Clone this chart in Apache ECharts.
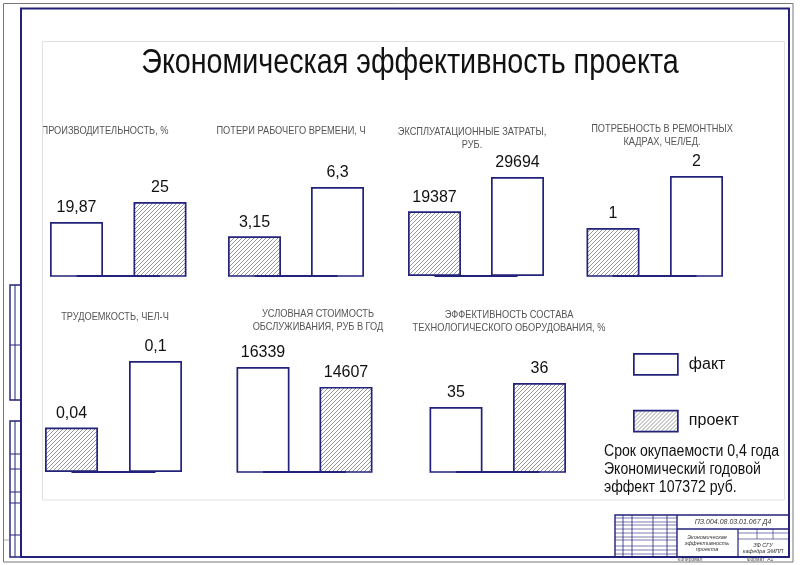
<!DOCTYPE html>
<html><head><meta charset="utf-8">
<script src="https://cdn.jsdelivr.net/npm/echarts@6/dist/echarts.min.js"></script>
<style>html,body{margin:0;padding:0;background:#fff}#c{width:800px;height:565px}</style>
</head><body><div id="c"></div>
<script>
// ---------- data ----------
const chartTitle = 'Экономическая эффективность проекта';
const panelTitles = [
  'ПРОИЗВОДИТЕЛЬНОСТЬ, %',
  'ПОТЕРИ РАБОЧЕГО ВРЕМЕНИ, Ч',
  'ЭКСПЛУАТАЦИОННЫЕ ЗАТРАТЫ,\nРУБ.',
  'ПОТРЕБНОСТЬ В РЕМОНТНЫХ\nКАДРАХ, ЧЕЛ/ЕД.',
  'ТРУДОЕМКОСТЬ, ЧЕЛ-Ч',
  'УСЛОВНАЯ СТОИМОСТЬ\nОБСЛУЖИВАНИЯ, РУБ В ГОД',
  'ЭФФЕКТИВНОСТЬ СОСТАВА\nТЕХНОЛОГИЧЕСКОГО ОБОРУДОВАНИЯ, %'
];
const seriesNames = ['факт', 'проект'];
const factValues    = [19.87, 6.3, 29694, 2, 0.1, 16339, 35];
const projectValues = [25, 3.15, 19387, 1, 0.04, 14607, 36];
const barOrder = [
  ['факт', 'проект'], ['проект', 'факт'], ['проект', 'факт'], ['проект', 'факт'],
  ['проект', 'факт'], ['факт', 'проект'], ['факт', 'проект']
];
const noteLines = ['Срок окупаемости 0,4 года', 'Экономический годовой', 'эффект 107372 руб.'];
const stampCode = 'ПЗ.004.08.03.01.067 Д4';
const stampName = 'Экономическая\nэффективность\nпроекта';
const stampOrg = 'ЗФ СГУ\nкафедра ЭМПП';

// ---------- layout / style ----------
const F = '"Liberation Sans","DejaVu Sans","Noto Sans",sans-serif';
const NAVY = '#22227a';
const panelLayout = [
  {c1: 76.5, c2: 160,   top: 202, bottom: 276, min: 6,    tx: 105, ty: 131},
  {c1: 254.5, c2: 337.5, top: 187, bottom: 276, min: 0.6,  tx: 291, ty: 131},
  {c1: 434.5, c2: 517.5, top: 177, bottom: 276, min: 0,    tx: 472, ty: 139},
  {c1: 613,  c2: 696.5, top: 176, bottom: 276, min: 0.08, tx: 662, ty: 136},
  {c1: 71.5, c2: 155.5, top: 361, bottom: 472, min: 0,    tx: 115, ty: 317},
  {c1: 263,  c2: 346,   top: 367, bottom: 472, min: 7200, tx: 318, ty: 321},
  {c1: 456,  c2: 539.5, top: 383, bottom: 472, min: 32.3, tx: 509, ty: 322}
];

function hatchCanvas() {
  const c = document.createElement('canvas');
  c.width = 4; c.height = 4;
  const g = c.getContext('2d');
  g.fillStyle = '#fff'; g.fillRect(0, 0, 4, 4);
  g.strokeStyle = '#8c8c8c'; g.lineWidth = 0.9;
  g.beginPath();
  g.moveTo(0, 4); g.lineTo(4, 0);
  g.moveTo(-1, 1); g.lineTo(1, -1);
  g.moveTo(3, 5); g.lineTo(5, 3);
  g.stroke();
  return c;
}
const hatch = {image: hatchCanvas(), repeat: 'repeat'};

const grids = [], xAxes = [], yAxes = [], series = [], graphics = [];
panelLayout.forEach((L, i) => {
  const w = L.c2 - L.c1;
  grids.push({left: L.c1 - w / 2, width: 2 * w, top: L.top, height: L.bottom - L.top, containLabel: false});
  xAxes.push({type: 'category', gridIndex: i, data: barOrder[i], show: false, boundaryGap: true});
  yAxes.push({type: 'value', gridIndex: i, show: false, min: L.min,
              max: Math.max(factValues[i], projectValues[i]), splitLine: {show: false}});
  seriesNames.forEach((s, k) => {
    const val = s === 'факт' ? factValues[i] : projectValues[i];
    const ser = {
      type: 'bar', name: s, xAxisIndex: i, yAxisIndex: i,
      barWidth: 53, barGap: '-100%',
      data: barOrder[i].map(cat => cat === s ? val : '-'),
      itemStyle: {color: s === 'факт' ? '#ffffff' : hatch, borderColor: NAVY, borderWidth: 1.7},
      label: {show: true, position: 'top', distance: 6, fontSize: 16, color: '#111', fontFamily: F,
              formatter: p => String(p.value).replace('.', ',')},
      emphasis: {disabled: true}, silent: true
    };
    if (k === 0) {
      ser.markLine = {
        silent: true, symbol: ['none', 'none'], animation: false, z: 10,
        lineStyle: {color: NAVY, width: 2, type: 'solid', opacity: 1}, label: {show: false},
        emphasis: {disabled: true},
        data: [[{coord: [barOrder[i][0], L.min]}, {coord: [barOrder[i][1], L.min]}]]
      };
    }
    series.push(ser);
  });
  graphics.push({type: 'text', x: L.tx, y: L.ty, scaleX: 0.88, silent: true,
    style: {text: panelTitles[i], fill: '#555', font: '10.5px ' + F, textAlign: 'center',
            textVerticalAlign: 'middle', lineHeight: 13}});
});

// frames
graphics.push(
  {type: 'rect', shape: {x: 3.5, y: 3.5, width: 789.5, height: 558.5}, style: {fill: 'none', stroke: '#777', lineWidth: 1}, silent: true},
  {type: 'rect', shape: {x: 42.5, y: 41.5, width: 742, height: 458.5}, style: {fill: 'none', stroke: '#e2e2e2', lineWidth: 1}, silent: true},
  {type: 'rect', shape: {x: 21, y: 8.5, width: 768, height: 548.5}, style: {fill: 'none', stroke: NAVY, lineWidth: 2}, silent: true}
);
// title
graphics.push({type: 'text', x: 410, y: 63, scaleX: 0.82, silent: true,
  style: {text: chartTitle, fill: '#111', font: '35px ' + F, textAlign: 'center', textVerticalAlign: 'middle'}});
// note
graphics.push({type: 'text', x: 604, y: 443, scaleX: 0.88, silent: true,
  style: {text: noteLines.join('\n'), fill: '#111', font: '16px ' + F, lineHeight: 18, textAlign: 'left', textVerticalAlign: 'top'}});

// left side stamps
function line(x1, y1, x2, y2, w, c) {
  graphics.push({type: 'line', silent: true, shape: {x1, y1, x2, y2}, style: {stroke: c || NAVY, lineWidth: w || 1}});
}
graphics.push({type: 'rect', silent: true, shape: {x: 10, y: 285, width: 11, height: 115}, style: {fill: 'none', stroke: NAVY, lineWidth: 1.4}});
graphics.push({type: 'rect', silent: true, shape: {x: 10, y: 421, width: 11, height: 136}, style: {fill: 'none', stroke: NAVY, lineWidth: 1.4}});
line(15, 285, 15, 400); line(10, 345, 21, 345);
line(15, 421, 15, 557);
[454, 469, 492, 503, 535].forEach(y => line(10, y, 21, y));
line(3, 540, 10, 540, 0.6, '#777');

// bottom-right title block
graphics.push({type: 'rect', silent: true, shape: {x: 615, y: 515, width: 174, height: 42}, style: {fill: 'none', stroke: NAVY, lineWidth: 1.4}});
line(677, 515, 677, 557, 1.4); line(677, 529, 789, 529, 1.4); line(738, 529, 738, 557, 1.2);
[518, 522, 525, 529, 533, 537, 540, 546, 550, 554].forEach(y => line(615, y, 677, y, 0.6));
[623, 632, 653, 667].forEach(x => line(x, 515, x, 557, 0.8));
line(738, 533, 789, 533, 0.6); line(738, 539, 789, 539, 0.6);
[757, 773].forEach(x => line(x, 529, x, 539, 0.6));
graphics.push({type: 'text', silent: true, x: 733, y: 522, style: {text: stampCode, fill: '#333', font: 'italic 7px ' + F, textAlign: 'center', textVerticalAlign: 'middle'}});
graphics.push({type: 'text', silent: true, x: 707, y: 543, style: {text: stampName, fill: '#333', font: 'italic 5.5px ' + F, textAlign: 'center', textVerticalAlign: 'middle', lineHeight: 6}});
graphics.push({type: 'text', silent: true, x: 763, y: 548, style: {text: stampOrg, fill: '#333', font: 'italic 5.5px ' + F, textAlign: 'center', textVerticalAlign: 'middle', lineHeight: 6}});
graphics.push({type: 'text', silent: true, x: 690, y: 560, style: {text: 'Копировал', fill: '#555', font: '5px ' + F, textAlign: 'center', textVerticalAlign: 'middle'}});
graphics.push({type: 'text', silent: true, x: 760, y: 560, style: {text: 'Формат  А1', fill: '#555', font: '5px ' + F, textAlign: 'center', textVerticalAlign: 'middle'}});

const chart = echarts.init(document.getElementById('c'), null, {renderer: 'canvas'});
chart.setOption({
  animation: false,
  backgroundColor: '#fff',
  grid: grids, xAxis: xAxes, yAxis: yAxes, series: series,
  legend: {
    data: seriesNames, orient: 'vertical', left: 628, top: 348,
    itemWidth: 44, itemHeight: 21, itemGap: 34, icon: 'rect', selectedMode: false,
    itemStyle: {borderColor: NAVY, borderWidth: 1.7},
    textStyle: {fontSize: 16, fontFamily: F, color: '#111', padding: [0, 0, 0, 6]}
  },
  graphic: graphics
});
</script></body></html>
